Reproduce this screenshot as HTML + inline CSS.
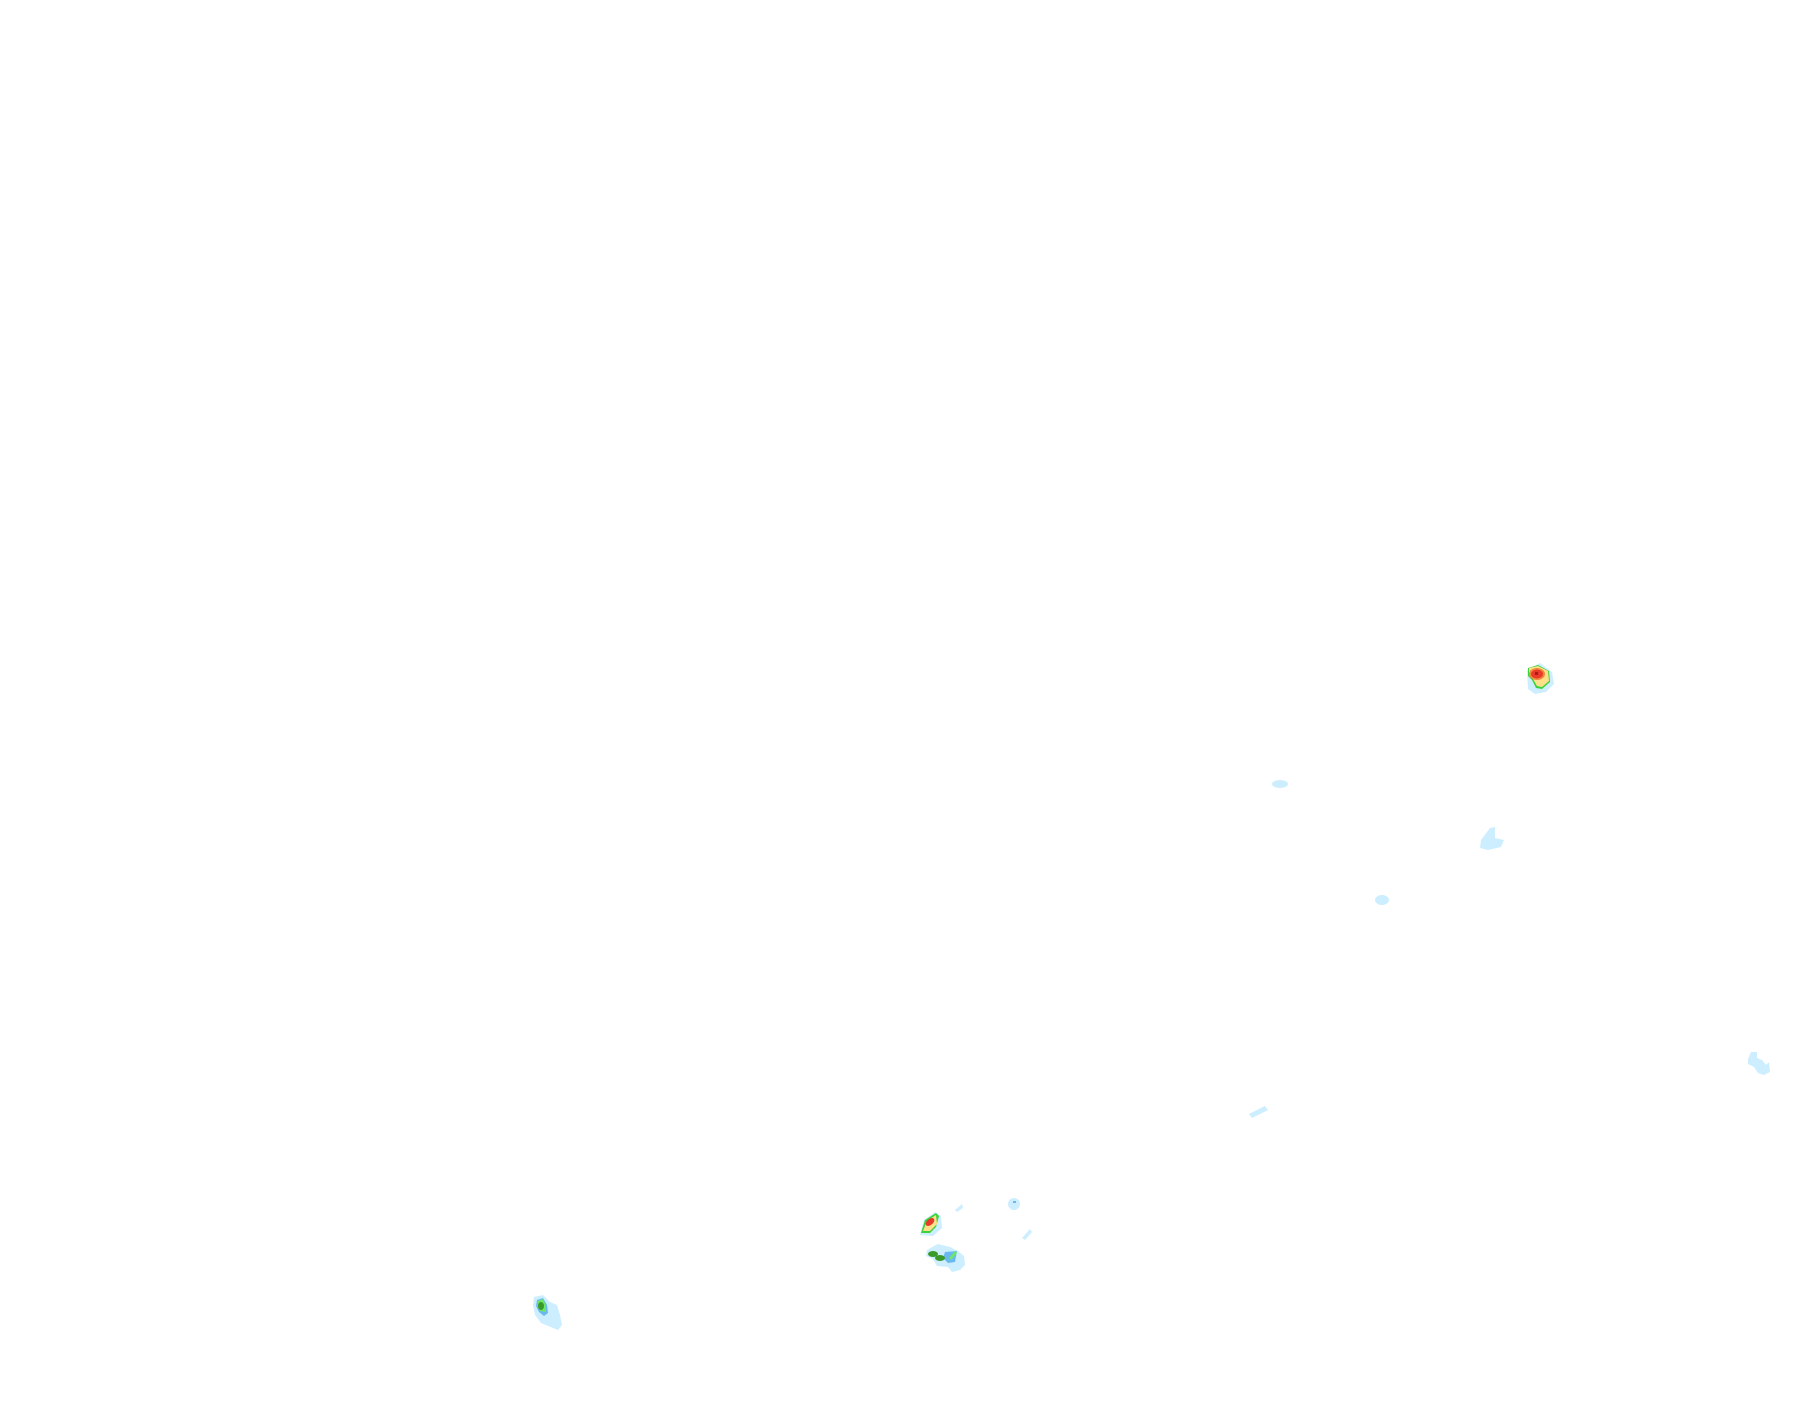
<!DOCTYPE html>
<html><head><style>html,body{margin:0;padding:0;background:#fff;}svg{display:block}</style></head>
<body>
<svg width="1815" height="1424" viewBox="0 0 1815 1424" xmlns="http://www.w3.org/2000/svg">
<rect width="1815" height="1424" fill="#fff"/>
<!-- NE storm -->
<g>
<path d="M1527,670 L1540,663 L1552,672 L1554,684 L1546,692 L1535,694 L1528,689 Z" fill="#cdeeff"/>
<path d="M1528,668 L1538,665 L1549,671 L1550,682 L1542,689 L1536,688 L1532,680 L1528,676 Z" fill="#3cd23c"/>
<path d="M1529,668 L1538,666 L1548,671 L1549,681 L1542,687 L1537,686 L1533,679 L1529,675 Z" fill="#ffe08a"/>
<ellipse cx="1537" cy="674" rx="8" ry="6" fill="#f08a3a"/>
<ellipse cx="1537" cy="674" rx="6" ry="4.5" fill="#e83a2a"/>
<rect x="1535" y="672" width="3" height="3" fill="#b01818"/>
</g>
<!-- small light blue blobs -->
<ellipse cx="1280" cy="784" rx="8" ry="4" fill="#cdeeff"/>
<path d="M1490,828 L1495,827 L1495,838 L1504,840 L1501,847 L1488,850 L1480,848 L1481,840 Z" fill="#cdeeff"/>
<ellipse cx="1382" cy="900" rx="7" ry="5" fill="#cdeeff"/>
<path d="M1249,1114 L1265,1106 L1268,1110 L1252,1118 Z" fill="#cdeeff"/>
<path d="M1751,1052 L1757,1052 L1757,1058 L1762,1060 L1766,1065 L1769,1062 L1770,1072 L1764,1075 L1758,1073 L1754,1067 L1748,1064 L1748,1059 Z" fill="#cdeeff"/>
<!-- central storms -->
<path d="M955,1210 L962,1204 L963,1208 L957,1212 Z" fill="#cdeeff"/>
<ellipse cx="1014" cy="1204" rx="6" ry="6" fill="#cdeeff"/>
<rect x="1013" y="1201" width="3" height="2" fill="#6ab8f0"/>
<path d="M1022,1238 L1030,1229 L1032,1232 L1025,1240 Z" fill="#cdeeff"/>
<g>
<path d="M920,1235 L924,1220 L935,1212 L941,1216 L942,1228 L933,1236 Z" fill="#cdeeff"/>
<path d="M921,1233 L925,1220 L936,1213 L939,1216 L936,1227 L930,1233 Z" fill="#3cd23c"/>
<path d="M923,1231 L927,1221 L936,1215 L937,1224 L930,1231 Z" fill="#ffe08a"/>
<ellipse cx="930" cy="1222" rx="5" ry="3" transform="rotate(-40 930 1222)" fill="#e83a2a"/>
</g>
<g>
<path d="M927,1250 L934,1246 L938,1244 L950,1247 L958,1251 L964,1256 L965,1265 L960,1270 L952,1272 L948,1267 L937,1266 L933,1259 L926,1256 Z" fill="#cdeeff"/>
<path d="M945,1252 L957,1251 L955,1262 L948,1263 L943,1258 Z" fill="#6ab8f0"/>
<ellipse cx="933" cy="1254" rx="5" ry="3" fill="#3a9a2a"/>
<ellipse cx="940" cy="1258" rx="5" ry="3" fill="#3a9a2a"/>
<path d="M949,1258 L955,1251 L957,1253 L951,1260 Z" fill="#6ee66a"/>
</g>
<!-- SW storm -->
<g>
<path d="M534,1297 L543,1295 L550,1302 L557,1305 L560,1315 L562,1325 L558,1330 L553,1328 L541,1323 L535,1315 L533,1305 Z" fill="#cdeeff"/>
<path d="M537,1300 L543,1298 L547,1305 L548,1313 L544,1316 L539,1312 L536,1306 Z" fill="#6ab8f0"/>
<path d="M538,1301 L543,1299 L546,1306 L546,1312 L540,1311 L537,1306 Z" fill="#6ee66a"/>
<ellipse cx="541" cy="1306" rx="3" ry="4" fill="#3a9a2a"/>
</g>
</svg>
</body></html>
